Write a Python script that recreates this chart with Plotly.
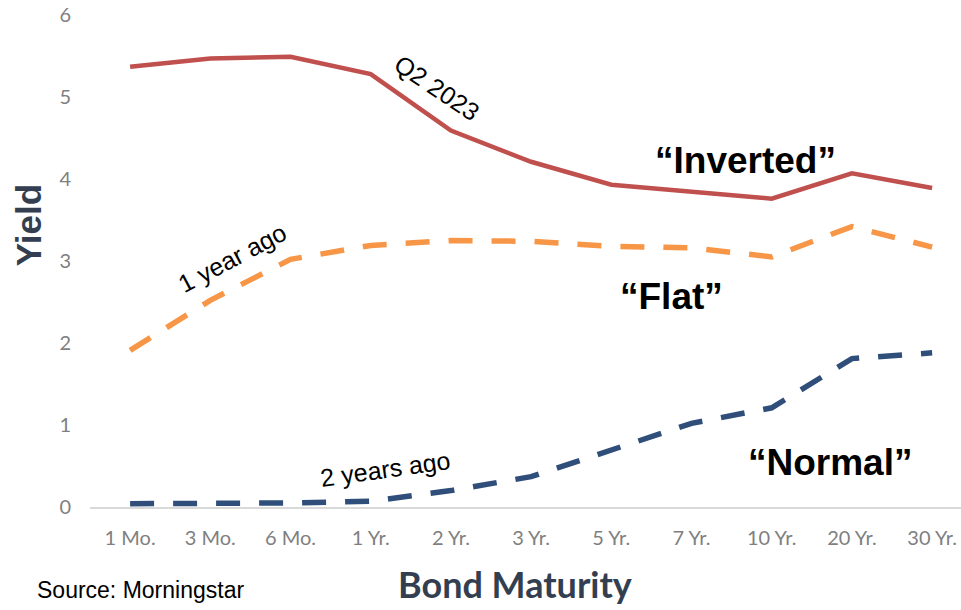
import plotly.graph_objects as go

maturities = ["1 Mo.", "3 Mo.", "6 Mo.", "1 Yr.", "2 Yr.", "3 Yr.", "5 Yr.", "7 Yr.", "10 Yr.", "20 Yr.", "30 Yr."]
q2_2023 = [5.37, 5.47, 5.49, 5.28, 4.59, 4.21, 3.93, 3.85, 3.76, 4.07, 3.89]
one_year_ago = [1.91, 2.52, 3.02, 3.19, 3.25, 3.24, 3.18, 3.16, 3.05, 3.42, 3.17]
two_years_ago = [0.04, 0.04, 0.05, 0.07, 0.20, 0.37, 0.69, 1.02, 1.21, 1.81, 1.88]
y_ticks = [0, 1, 2, 3, 4, 5, 6]

fig = go.Figure()
fig.add_trace(go.Scatter(x=maturities, y=two_years_ago, mode="lines",
                         line=dict(color="#2f4f7a", width=5.5, dash="24px,19px"), name="2 years ago"))
fig.add_trace(go.Scatter(x=maturities, y=one_year_ago, mode="lines",
                         line=dict(color="#f79646", width=5.5, dash="24px,19px"), name="1 year ago"))
fig.add_trace(go.Scatter(x=maturities, y=q2_2023, mode="lines",
                         line=dict(color="#c0504d", width=4.5), name="Q2 2023"))

ann_font = dict(family="Liberation Sans, Arial", color="black")
annotations = [
    dict(x=3.83, y=5.11, text="Q2 2023", textangle=34, font=dict(size=25, **ann_font)),
    dict(x=1.27, y=3.04, text="1 year ago", textangle=-28, font=dict(size=25, **ann_font)),
    dict(x=3.18, y=0.46, text="2 years ago", textangle=-8, font=dict(size=25, **ann_font)),
    dict(x=7.67, y=4.23, text="<b>“Inverted”</b>", font=dict(size=37, **ann_font)),
    dict(x=6.75, y=2.57, text="<b>“Flat”</b>", font=dict(size=37, **ann_font)),
    dict(x=8.73, y=0.54, text="<b>“Normal”</b>", font=dict(size=37, **ann_font)),
]
for a in annotations:
    a.update(xref="x", yref="y", showarrow=False)
    fig.add_annotation(**a)

fig.add_annotation(xref="paper", yref="paper", x=-0.063, y=-0.169, xanchor="left", yanchor="middle",
                   text="Source: Morningstar", showarrow=False,
                   font=dict(family="Liberation Sans, Arial", size=23, color="black"))
fig.add_annotation(xref="paper", yref="paper", x=0.4885, y=-0.2045, xanchor="center", yanchor="bottom",
                   text="<b>Bond Maturity</b>", showarrow=False,
                   font=dict(family="Lato, Open Sans", size=36, color="#333f50"))
fig.add_annotation(xref="paper", yref="paper", x=-0.071, y=0.573, xanchor="center", yanchor="middle",
                   text="<b>Yield</b>", textangle=-90, showarrow=False,
                   font=dict(family="Liberation Sans, Arial", size=35, color="#333f50"))

fig.update_layout(
    width=961, height=610,
    margin=dict(l=90, r=0, t=15, b=103),
    plot_bgcolor="white", paper_bgcolor="white",
    showlegend=False,
    xaxis=dict(type="category", range=[-0.5, 10.36], showgrid=False, showline=True,
               linecolor="#d9d9d9", linewidth=2, ticks="", zeroline=False,
               tickfont=dict(family="Lato, Open Sans", size=20, color="#7f7f7f"),
               ticklabelstandoff=12),
    yaxis=dict(range=[0, 6], tickvals=y_ticks, showgrid=False, zeroline=False, showline=False,
               ticks="", tickfont=dict(family="Lato, Open Sans", size=20, color="#7f7f7f"),
               ticklabelstandoff=18),
)

fig.write_html("out.html")
